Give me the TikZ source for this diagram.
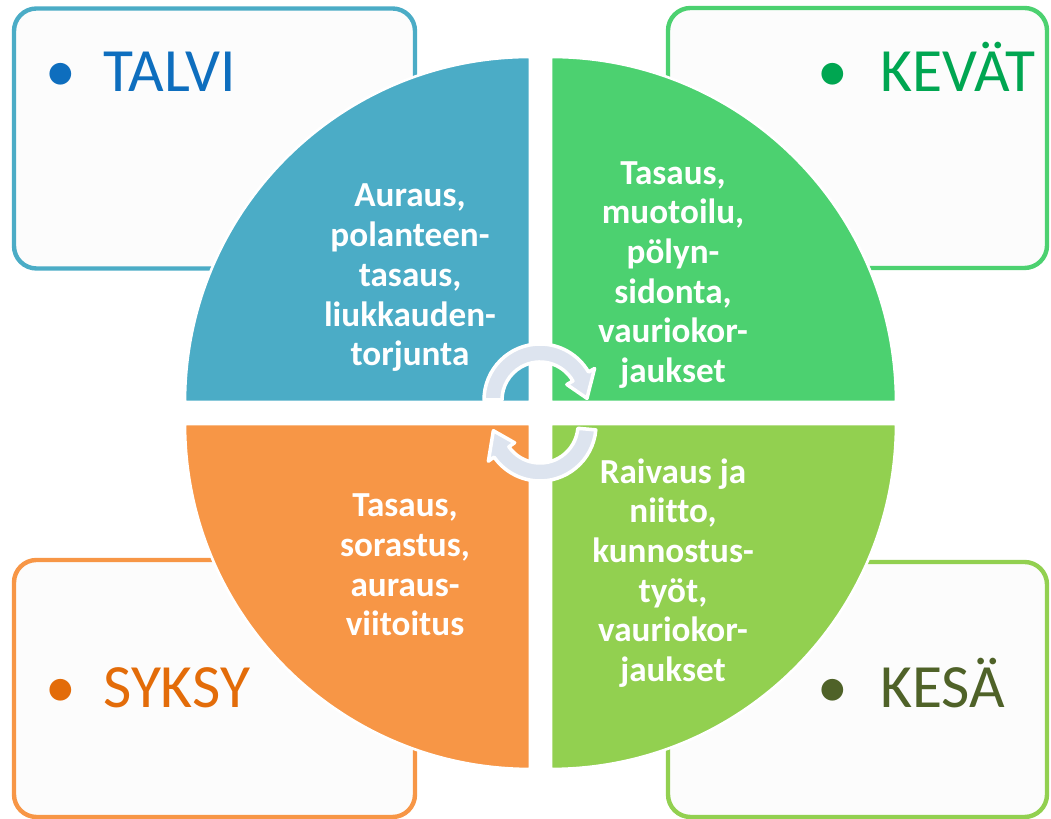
\documentclass[tikz,border=0pt]{standalone}
\usepackage{fontspec}
\setmainfont[Ligatures=NoCommon]{Carlito}
\usetikzlibrary{positioning}

\definecolor{talviblue}{HTML}{4BACC6}
\definecolor{talvitext}{HTML}{0E6EBE}
\definecolor{kevatgreen}{HTML}{4CD170}
\definecolor{kevattext}{HTML}{00A651}
\definecolor{syksyorange}{HTML}{F79646}
\definecolor{syksytext}{HTML}{E36C09}
\definecolor{kesagreen}{HTML}{92D050}
\definecolor{kesatext}{HTML}{4F6228}
\definecolor{boxfill}{HTML}{FCFCFC}
\definecolor{arrowfill}{HTML}{DDE4EF}

\tikzset{
  seasonbox/.style={rectangle, rounded corners=0.45cm, line width=2.5pt, fill=boxfill,
    minimum width=8.02cm, minimum height=5.2cm, inner sep=0pt},
  seasonlabel/.style={anchor=base west, inner sep=0pt, font=\fontsize{35}{42}\selectfont},
  quadrant/.style={draw=white, line width=1.5pt},
  worktext/.style={align=center, text=white, inner sep=0pt,
    font=\fontsize{20}{22.6}\selectfont\bfseries},
  cyclearrow/.style={fill=arrowfill, draw=white, line width=2pt, line join=round}
}

\begin{document}
\begin{tikzpicture}
  \useasboundingbox (0,0) rectangle (21.02,16.38);

  % season boxes
  \node[seasonbox, draw=talviblue] (talvibox) at (4.29,13.61) {};
  \node[seasonbox, draw=kevatgreen, minimum width=7.58cm] (kevatbox) at (17.15,13.62) {};
  \node[seasonbox, draw=syksyorange, minimum height=5.14cm] (syksybox) at (4.29,2.61) {};
  \node[seasonbox, draw=kesagreen, minimum width=7.58cm, minimum height=5.1cm] (kesabox) at (17.15,2.59) {};

  \node[seasonlabel, text=talvitext] (talvi) at (0.34,14.54) {\makebox[1.72cm][c]{\textbullet}TALVI};
  \node[seasonlabel, text=kevattext] (kevat) at (15.68,14.54) {\makebox[1.92cm][c]{\textbullet}KEVÄT};
  \node[seasonlabel, text=syksytext] (syksy) at (0.34,2.22) {\makebox[1.72cm][c]{\textbullet}SYKSY};
  \node[seasonlabel, text=kesatext] (kesa) at (15.68,2.22) {\makebox[1.92cm][c]{\textbullet}KESÄ};

  % the four quarters of the circle
  \filldraw[quadrant, fill=talviblue] (10.6,8.34) -- ++(180:6.9) arc[start angle=180, end angle=90, radius=6.9] -- cycle;
  \filldraw[quadrant, fill=kevatgreen] (11.02,8.34) -- ++(90:6.9) arc[start angle=90, end angle=0, radius=6.9] -- cycle;
  \filldraw[quadrant, fill=syksyorange] (10.6,7.9) -- ++(270:6.9) arc[start angle=270, end angle=180, radius=6.9] -- cycle;
  \filldraw[quadrant, fill=kesagreen] (11.02,7.9) -- ++(0:6.9) arc[start angle=0, end angle=-90, radius=6.9] -- cycle;

  \node[worktext] (talvityot) at (8.2,10.82) {Auraus,\\polanteen-\\tasaus,\\liukkauden-\\torjunta};
  \node[worktext] (kevattyot) at (13.46,10.88) {Tasaus,\\muotoilu,\\pölyn-\\sidonta,\\vauriokor-\\jaukset};
  \node[worktext] (syksytyot) at (8.1,5.08) {Tasaus,\\sorastus,\\auraus-\\viitoitus};
  \node[worktext] (kesatyot) at (13.46,4.92) {Raivaus ja\\niitto,\\kunnostus-\\työt,\\vauriokor-\\jaukset};

  % cycle arrows in the middle
  \begin{scope}[shift={(10.8,8.38)}]
    \filldraw[cyclearrow] (180:1.12) arc[start angle=180, end angle=30, radius=1.12]
      -- (30:1.26) -- (2:0.94) -- (30:0.62) -- (30:0.76)
      arc[start angle=30, end angle=180, radius=0.76] -- cycle;
  \end{scope}
  \begin{scope}[shift={(10.8,7.88)}]
    \filldraw[cyclearrow] (-5:1.12) arc[start angle=-5, end angle=-145, radius=1.12]
      -- (-145:1.26) -- (-173:0.94) -- (-145:0.62) -- (-145:0.76)
      arc[start angle=-145, end angle=-5, radius=0.76] -- cycle;
  \end{scope}
\end{tikzpicture}
\end{document}
